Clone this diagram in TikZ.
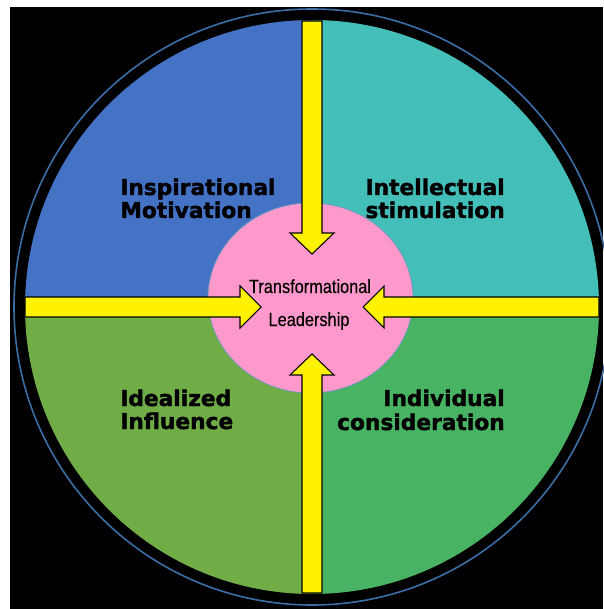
\documentclass[tikz,border=0pt]{standalone}
\usepackage{fontspec}
\setmainfont{DejaVu Sans}
\newfontfamily\heavyfont[FakeBold=1.6]{DejaVu Sans Bold}
\newfontfamily\narrowfont[FakeStretch=0.86,FakeBold=0.4]{Liberation Sans}
\usepackage{xcolor}
\definecolor{inspblue}{RGB}{68,114,196}
\definecolor{intelteal}{RGB}{67,190,184}
\definecolor{idealgreen}{RGB}{112,173,71}
\definecolor{indivgreen}{RGB}{72,180,99}
\definecolor{corepink}{RGB}{255,153,204}
\definecolor{ringblue}{RGB}{58,110,165}
\tikzset{
  quadlabel/.style={inner sep=0pt, font=\heavyfont\fontsize{16.3}{18}\selectfont},
  corelabel/.style={inner sep=0pt, font=\narrowfont\fontsize{14.25}{16}\selectfont},
  blockarrow/.style={fill=yellow, draw=black, line width=.8pt, line join=miter}
}

\begin{document}
\begin{tikzpicture}[x=.75pt,y=-.75pt]
\useasboundingbox (0,0) rectangle (603,609);
\fill[black] (10,7) rectangle (603,609);
\draw[ringblue, line width=1.2pt] (312,307) circle (298);
% the four quarters
\fill[inspblue] (312,307) -- (25,307) arc (180:270:287) -- cycle;
\fill[intelteal] (312,307) -- (312,20) arc (270:360:287) -- cycle;
\fill[indivgreen] (312,307) -- (599,307) arc (0:90:287) -- cycle;
\fill[idealgreen] (312,307) -- (312,594) arc (90:180:287) -- cycle;
% centre
\draw[fill=corepink, draw=ringblue!70, line width=.6pt] (310.5,298) ellipse (102.5 and 95);
% arrows
\draw[blockarrow] (302,21)--(302,233)--(290,233)--(312,254)--(334,233)--(322,233)--(322,21)--cycle;
\draw[blockarrow] (302,593)--(302,375)--(290,375)--(312,354)--(334,375)--(322,375)--(322,593)--cycle;
\draw[blockarrow] (25,297)--(240,297)--(240,286)--(261,307)--(240,328)--(240,317)--(25,317)--cycle;
\draw[blockarrow] (599,297)--(384,297)--(384,286)--(363,307)--(384,328)--(384,317)--(599,317)--cycle;
% labels
\node[quadlabel, anchor=base west] (insp) at (120,195) {Inspirational};
\node[quadlabel, anchor=base west] (motiv) at (120,218) {Motivation};
\node[quadlabel, anchor=base east] (intel) at (505,195) {Intellectual};
\node[quadlabel, anchor=base east] (stim) at (505,218) {stimulation};
\node[quadlabel, anchor=base west] (ideal) at (120,406) {Idealized};
\node[quadlabel, anchor=base west] (influ) at (120,429) {Influence};
\node[quadlabel, anchor=base east] (indiv) at (505,406) {Individual};
\node[quadlabel, anchor=base east] (consid) at (505,430) {consideration};
\node[corelabel, anchor=base] (transf) at (310,293) {Transformational};
\node[corelabel, anchor=base] (lead) at (309,326) {Leadership};
\end{tikzpicture}
\end{document}
